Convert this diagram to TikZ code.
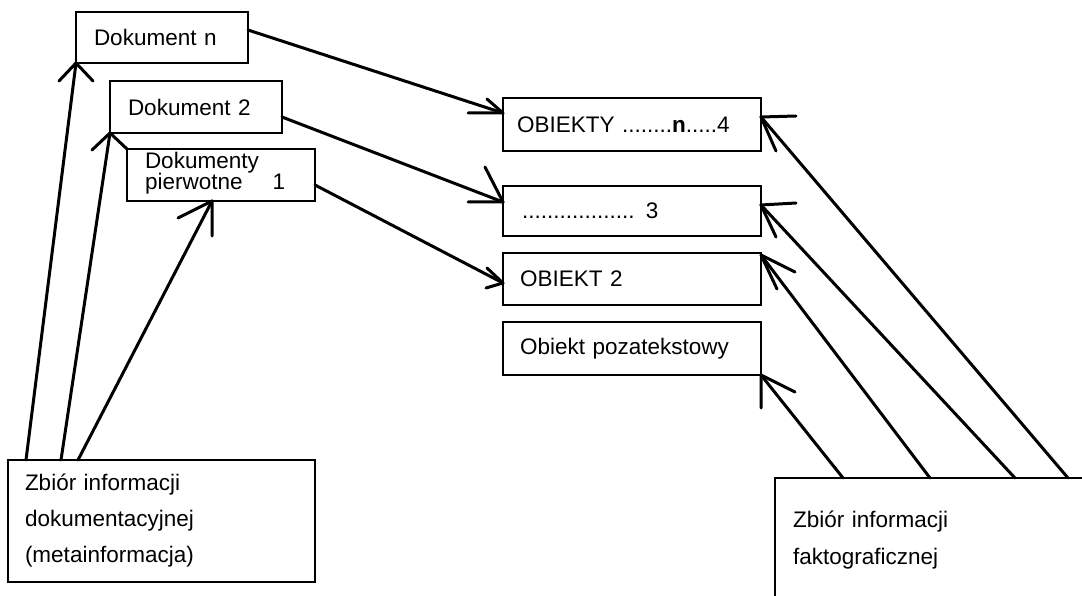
\documentclass[tikz,border=0pt]{standalone}
\usepackage{fontspec}
\setmainfont{Liberation Sans}
\usetikzlibrary{calc}
\newcommand\vhead[3]{\draw[conn] ($(#1)+(#2)$) -- (#1) -- ($(#1)+(#3)$);}
\begin{document}
\begin{tikzpicture}[x=1pt,y=-1pt,
  box/.style={draw, line width=2.7pt, rectangle, anchor=north west, outer sep=0pt,
    inner xsep=18pt, inner ysep=0pt, align=left, font=\fontsize{22.5}{27}\selectfont},
  conn/.style={line width=3pt, line cap=round, line join=round}]
\useasboundingbox (0,0) rectangle (1082,596);
\clip (0,0) rectangle (1082,596);
\fill[white] (0,0) rectangle (1082,596);

% left column
\node[box, text width=136pt, minimum height=51pt] (dn) at (76,12) {Dokument n};
\node[box, text width=136pt, minimum height=52pt] (d2) at (110,81) {Dokument 2};
\node[box, text width=152pt, minimum height=52pt, text depth=30.3pt,
  font=\fontsize{22.5}{16}\selectfont] (dp) at (127,149) {Dokumenty\\pierwotne\hspace{30pt}1};

% right column
\node[box, inner xsep=14pt, text width=230pt, minimum height=53pt] (ob4) at (503,98) {OBIEKTY ........\textbf{n}.....4};
\node[box, inner xsep=19pt, text width=220pt, minimum height=50pt] (ob3) at (503,186) {.................. 3};
\node[box, inner xsep=17pt, text width=224pt, minimum height=52pt] (ob2) at (503,253) {OBIEKT 2};
\node[box, inner xsep=17pt, text width=224pt, minimum height=53pt] (op) at (503,322) {Obiekt pozatekstowy};

% bottom boxes
\node[box, inner xsep=17pt, text width=273pt, minimum height=122pt,
  font=\fontsize{22.5}{36}\selectfont] (zi) at (8,460) {Zbiór informacji\\dokumentacyjnej\\(metainformacja)};
\node[box, inner xsep=18pt, inner ysep=33pt, text width=300pt,
  font=\fontsize{22.5}{37}\selectfont] (zf) at (775,478) {Zbiór informacji\\faktograficznej};

% coordinates
\coordinate (t1) at (dn.south west);
\coordinate (t2) at (d2.south west);
\coordinate (t3) at ($(dp.south west)+(85,0)$);
\coordinate (s1) at ($(zi.north west)+(18,0)$);
\coordinate (s2) at ($(zi.north west)+(53,0)$);
\coordinate (s3) at ($(zi.north west)+(70,0)$);

\coordinate (s4) at ($(dn.north east)+(0,18)$);
\coordinate (s5) at ($(d2.north east)+(0,36)$);
\coordinate (s6) at ($(dp.north east)+(0,36)$);
\coordinate (t4) at ($(ob4.north west)+(0,15)$);
\coordinate (t5) at ($(ob3.north west)+(0,16)$);
\coordinate (t6) at ($(ob2.north west)+(0,30)$);

\coordinate (r1) at ($(ob4.north east)+(0,19)$);
\coordinate (r2) at ($(ob3.north east)+(0,19)$);
\coordinate (r3) at ($(ob2.north east)+(0,2)$);
\coordinate (r4) at (op.south east);
\coordinate (u1) at ($(zf.north west)+(293,0)$);
\coordinate (u2) at ($(zf.north west)+(240,0)$);
\coordinate (u3) at ($(zf.north west)+(155,0)$);
\coordinate (u4) at ($(zf.north west)+(68,0)$);

% connectors
\draw[conn] (s1) -- (t1); \vhead{t1}{-17,18}{17,18}
\draw[conn] (s2) -- (t2); \vhead{t2}{-18,17}{17,16}
\draw[conn] (s3) -- (t3); \vhead{t3}{-34,17}{0,35}

\draw[conn] (s4) -- (t4); \vhead{t4}{-35,0}{-16,-14}
\draw[conn] (s5) -- (t5); \vhead{t5}{-35,0}{-18,-35}
\draw[conn] (s6) -- (t6); \vhead{t6}{-17,5}{-16,-15}

\draw[conn] (u1) -- (r1); \vhead{r1}{35,-1}{15,34}
\draw[conn] (u2) -- (r2); \vhead{r2}{35,-2}{15,32}
\draw[conn] (u3) -- (r3); \vhead{r3}{34,17}{16,34}
\draw[conn] (u4) -- (r4); \vhead{r4}{34,17}{0,33}
\end{tikzpicture}
\end{document}
